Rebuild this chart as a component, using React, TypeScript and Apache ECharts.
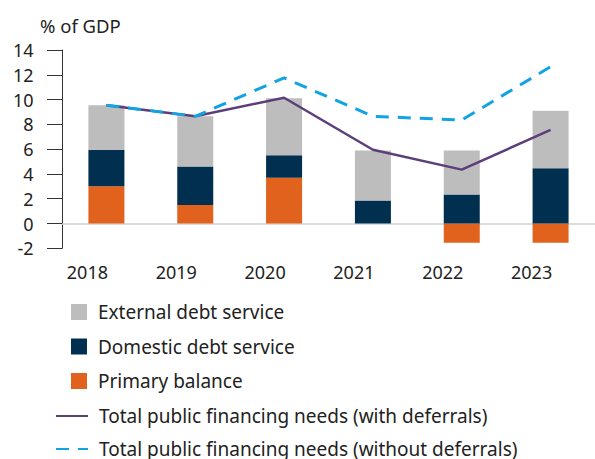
import React, { useEffect, useRef } from "react";
import * as echarts from "echarts";

const categories = ["2018", "2019", "2020", "2021", "2022", "2023"];
const primaryBalance = [3.0, 1.5, 3.7, 0, -1.55, -1.55];
const domesticDebt = [2.95, 3.1, 1.8, 1.85, 2.35, 4.45];
const externalDebt = [3.6, 4.05, 4.6, 4.05, 3.55, 4.65];
const withDeferrals = [9.55, 8.65, 10.15, 5.95, 4.35, 7.55];
const withoutDeferrals = [9.55, 8.65, 11.75, 8.65, 8.35, 12.65];
const yTicks = { min: -2, max: 14, interval: 2 };

const FONT = "Noto Sans";
const TXT = "#222222";

export default function App() {
  const ref = useRef<HTMLDivElement>(null);
  useEffect(() => {
    if (!ref.current) return;
    const chart = echarts.init(ref.current, undefined, { renderer: "svg" });
    chart.setOption({
      animation: false,
      backgroundColor: "#ffffff",
      title: {
        text: "% of GDP",
        left: 40,
        top: 16,
        padding: 0,
        textStyle: { fontFamily: FONT, fontSize: 18.5, fontWeight: "normal", color: TXT },
      },
      grid: { left: 62, right: -11, top: 50, bottom: 210.7, containLabel: false },
      legend: [
        {
          orient: "vertical",
          left: 71,
          top: 302,
          padding: 0,
          itemWidth: 16,
          itemHeight: 16,
          itemGap: 14.5,
          icon: "rect",
          data: ["External debt service", "Domestic debt service", "Primary balance"],
          textStyle: { fontFamily: FONT, fontSize: 19, color: TXT, lineHeight: 20, padding: [0, 0, 0, 6] },
        },
        {
          orient: "vertical",
          left: 55,
          top: 406,
          padding: 0,
          itemWidth: 32,
          itemHeight: 16,
          itemGap: 13,
          itemStyle: { opacity: 0, borderWidth: 0 },
          data: [
            "Total public financing needs (with deferrals)",
            "Total public financing needs (without deferrals)",
          ],
          textStyle: { fontFamily: FONT, fontSize: 19, color: TXT, lineHeight: 20, padding: [0, 0, 0, 6] },
        },
      ],
      xAxis: {
        type: "category",
        data: categories,
        axisLine: { onZero: true, lineStyle: { color: "#d0d0d0", width: 1.5 } },
        axisTick: { show: false },
        axisLabel: {
          margin: 15,
          fontFamily: FONT,
          fontSize: 18,
          color: TXT,
          padding: [0, 38, 0, 0],
        },
      },
      yAxis: {
        type: "value",
        min: yTicks.min,
        max: yTicks.max,
        interval: yTicks.interval,
        axisLine: { show: true, lineStyle: { color: "#333333", width: 1 } },
        axisTick: { show: true, length: 15, lineStyle: { color: "#333333", width: 1 } },
        splitLine: { show: false },
        axisLabel: { margin: 28.5, fontFamily: FONT, fontSize: 18, color: TXT },
      },
      series: [
        {
          name: "Primary balance",
          type: "bar",
          stack: "total",
          barWidth: 36,
          itemStyle: { color: "#E0621C" },
          data: primaryBalance,
        },
        {
          name: "Domestic debt service",
          type: "bar",
          stack: "total",
          barWidth: 36,
          itemStyle: { color: "#002F4F" },
          data: domesticDebt,
        },
        {
          name: "External debt service",
          type: "bar",
          stack: "total",
          barWidth: 36,
          itemStyle: { color: "#BDBDBD" },
          data: externalDebt,
        },
        {
          name: "Total public financing needs (with deferrals)",
          type: "line",
          symbol: "none",
          lineStyle: { color: "#5C3F7A", width: 2.5 },
          itemStyle: { color: "#5C3F7A" },
          data: withDeferrals,
        },
        {
          name: "Total public financing needs (without deferrals)",
          type: "line",
          symbol: "none",
          lineStyle: { color: "#12A3E3", width: 3, type: [13, 9] },
          itemStyle: { color: "#12A3E3" },
          data: withoutDeferrals,
        },
      ],
    });
    return () => chart.dispose();
  }, []);
  return (
    <div
      ref={ref}
      style={{ position: "fixed", left: 0, top: 0, width: 595, height: 459, background: "#fff" }}
    />
  );
}
